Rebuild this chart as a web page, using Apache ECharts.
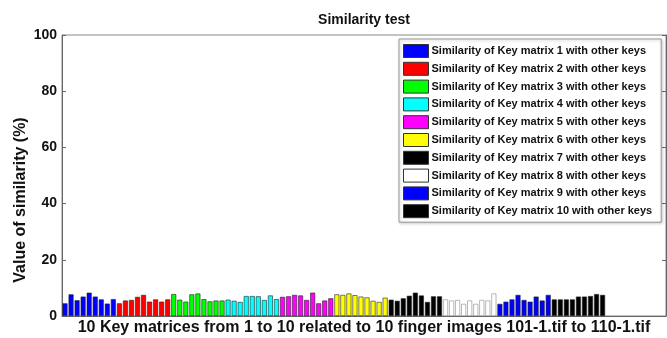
<!DOCTYPE html>
<html>
<head>
<meta charset="utf-8">
<script src="https://cdn.jsdelivr.net/npm/echarts@6/dist/echarts.min.js"></script>
<style>
  html, body { margin: 0; padding: 0; background: #fff; }
  #chart { width: 667px; height: 338px; }
</style>
</head>
<body>
<div id="chart"></div>
<script>
// Similarity (%) of each key matrix with the nine other keys
const keyNames = [
  'Similarity of Key matrix 1 with other keys',
  'Similarity of Key matrix 2 with other keys',
  'Similarity of Key matrix 3 with other keys',
  'Similarity of Key matrix 4 with other keys',
  'Similarity of Key matrix 5 with other keys',
  'Similarity of Key matrix 6 with other keys',
  'Similarity of Key matrix 7 with other keys',
  'Similarity of Key matrix 8 with other keys',
  'Similarity of Key matrix 9 with other keys',
  'Similarity of Key matrix 10 with other keys'
];
const key1  = [4.5, 7.7, 5.6, 6.9, 8.3, 6.9, 5.9, 4.4, 6.0];
const key2  = [4.5, 5.5, 5.7, 6.8, 7.5, 5.1, 5.9, 5.1, 5.9];
const key3  = [7.8, 5.8, 5.1, 7.7, 8.0, 6.0, 5.2, 5.5, 5.5];
const key4  = [5.8, 5.4, 5.0, 7.1, 7.1, 7.0, 5.7, 7.3, 6.0];
const key5  = [6.8, 7.0, 7.5, 7.3, 5.7, 8.3, 4.5, 5.5, 6.3];
const key6  = [7.7, 7.5, 8.0, 7.4, 6.9, 6.6, 5.4, 5.0, 6.5];
const key7  = [5.8, 5.4, 6.3, 7.2, 8.3, 7.3, 5.0, 7.0, 7.0];
const key8  = [5.9, 5.5, 5.7, 4.3, 5.5, 4.3, 5.7, 5.5, 8.0];
const key9  = [4.3, 5.1, 5.9, 7.5, 5.7, 5.1, 6.9, 5.5, 7.5];
const key10 = [5.9, 5.9, 5.9, 5.9, 6.9, 6.9, 7.1, 7.8, 7.5];
const keyValues = [key1, key2, key3, key4, key5, key6, key7, key8, key9, key10];
const keyColors = ['#0000ff', '#ff0000', '#00ff00', '#00ffff', '#ff00ff',
                   '#ffff00', '#000000', '#ffffff', '#0000ff', '#000000'];
const yTicks = [0, 20, 40, 60, 80, 100];
const emptySlots = 10; // unused positions after the last group

// One slot per comparison, followed by the empty tail of the axis
const slotCount = keyValues.reduce((n, v) => n + v.length, 0) + emptySlots;
const categories = Array.from({ length: slotCount }, (_, i) => String(i + 1));

let offset = 0;
const series = keyValues.map((vals, g) => {
  const data = new Array(slotCount).fill(null);
  vals.forEach((v, i) => { data[offset + i] = v; });
  offset += vals.length;
  return {
    name: keyNames[g],
    type: 'bar',
    stack: 'all',
    data: data,
    barCategoryGap: '18%',
    itemStyle: {
      color: keyColors[g],
      borderColor: keyColors[g] === '#ffffff' ? '#888' : '#222',
      borderWidth: 0.6
    }
  };
});

const chart = echarts.init(document.getElementById('chart'), null, { renderer: 'canvas' });
chart.setOption({
  backgroundColor: '#fff',
  animation: false,
  textStyle: { fontFamily: 'Liberation Sans, Arial, sans-serif' },
  grid: {
    left: 62, top: 35, width: 604, height: 281,
    containLabel: false,
    outerBoundsMode: 'none',
    show: true, borderColor: '#888', borderWidth: 1
  },
  legend: {
    orient: 'vertical',
    left: 399, top: 39,
    data: keyNames,
    itemWidth: 25, itemHeight: 13, itemGap: 3.8,
    padding: [5, 9, 4, 4],
    backgroundColor: '#fff',
    borderColor: '#999', borderWidth: 1,
    shadowColor: 'rgba(0,0,0,0.25)', shadowBlur: 3, shadowOffsetX: 1, shadowOffsetY: 1,
    icon: 'rect',
    itemStyle: { borderColor: '#333', borderWidth: 1 },
    textStyle: {
      fontSize: 11, fontWeight: 'bold', color: '#111',
      fontFamily: 'Liberation Sans, Arial, sans-serif', padding: [0, 0, 0, -2]
    }
  },
  xAxis: {
    type: 'category',
    data: categories,
    axisLine: { show: true, lineStyle: { color: '#666', width: 1 } },
    axisTick: { show: false },
    axisLabel: { show: false },
    name: '10 Key matrices from 1 to 10 related to 10 finger images 101-1.tif to 110-1.tif',
    nameLocation: 'middle',
    nameGap: 4,
    nameTextStyle: {
      fontSize: 16, fontWeight: 'bold', color: '#111',
      fontFamily: 'Liberation Sans, Arial, sans-serif',
      verticalAlign: 'top'
    }
  },
  yAxis: [{
    type: 'value',
    min: yTicks[0], max: yTicks[yTicks.length - 1], interval: 20,
    axisLine: { show: true, lineStyle: { color: '#666', width: 1 } },
    axisTick: { show: true, inside: true, length: 4, lineStyle: { color: '#666' } },
    axisLabel: {
      fontSize: 14, fontWeight: 'bold', color: '#111', margin: 5,
      fontFamily: 'Liberation Sans, Arial, sans-serif'
    },
    splitLine: { show: false }
  }, {
    type: 'value', position: 'right',
    min: yTicks[0], max: yTicks[yTicks.length - 1], interval: 20,
    axisLine: { show: true, lineStyle: { color: '#666', width: 1 } },
    axisTick: { show: true, inside: true, length: 4, lineStyle: { color: '#666' } },
    axisLabel: { show: false },
    splitLine: { show: false }
  }],
  graphic: [{
    type: 'text',
    x: 364, y: 20,
    style: {
      text: 'Similarity test',
      font: 'bold 14px "Liberation Sans", Arial, sans-serif',
      fill: '#111', textAlign: 'center', textVerticalAlign: 'middle'
    }
  }, {
    type: 'text',
    x: 21, y: 200,
    rotation: Math.PI / 2,
    style: {
      text: 'Value of similarity (%)',
      font: 'bold 16px "Liberation Sans", Arial, sans-serif',
      fill: '#111', textAlign: 'center', textVerticalAlign: 'middle'
    }
  }],
  series: series
});
</script>
</body>
</html>
